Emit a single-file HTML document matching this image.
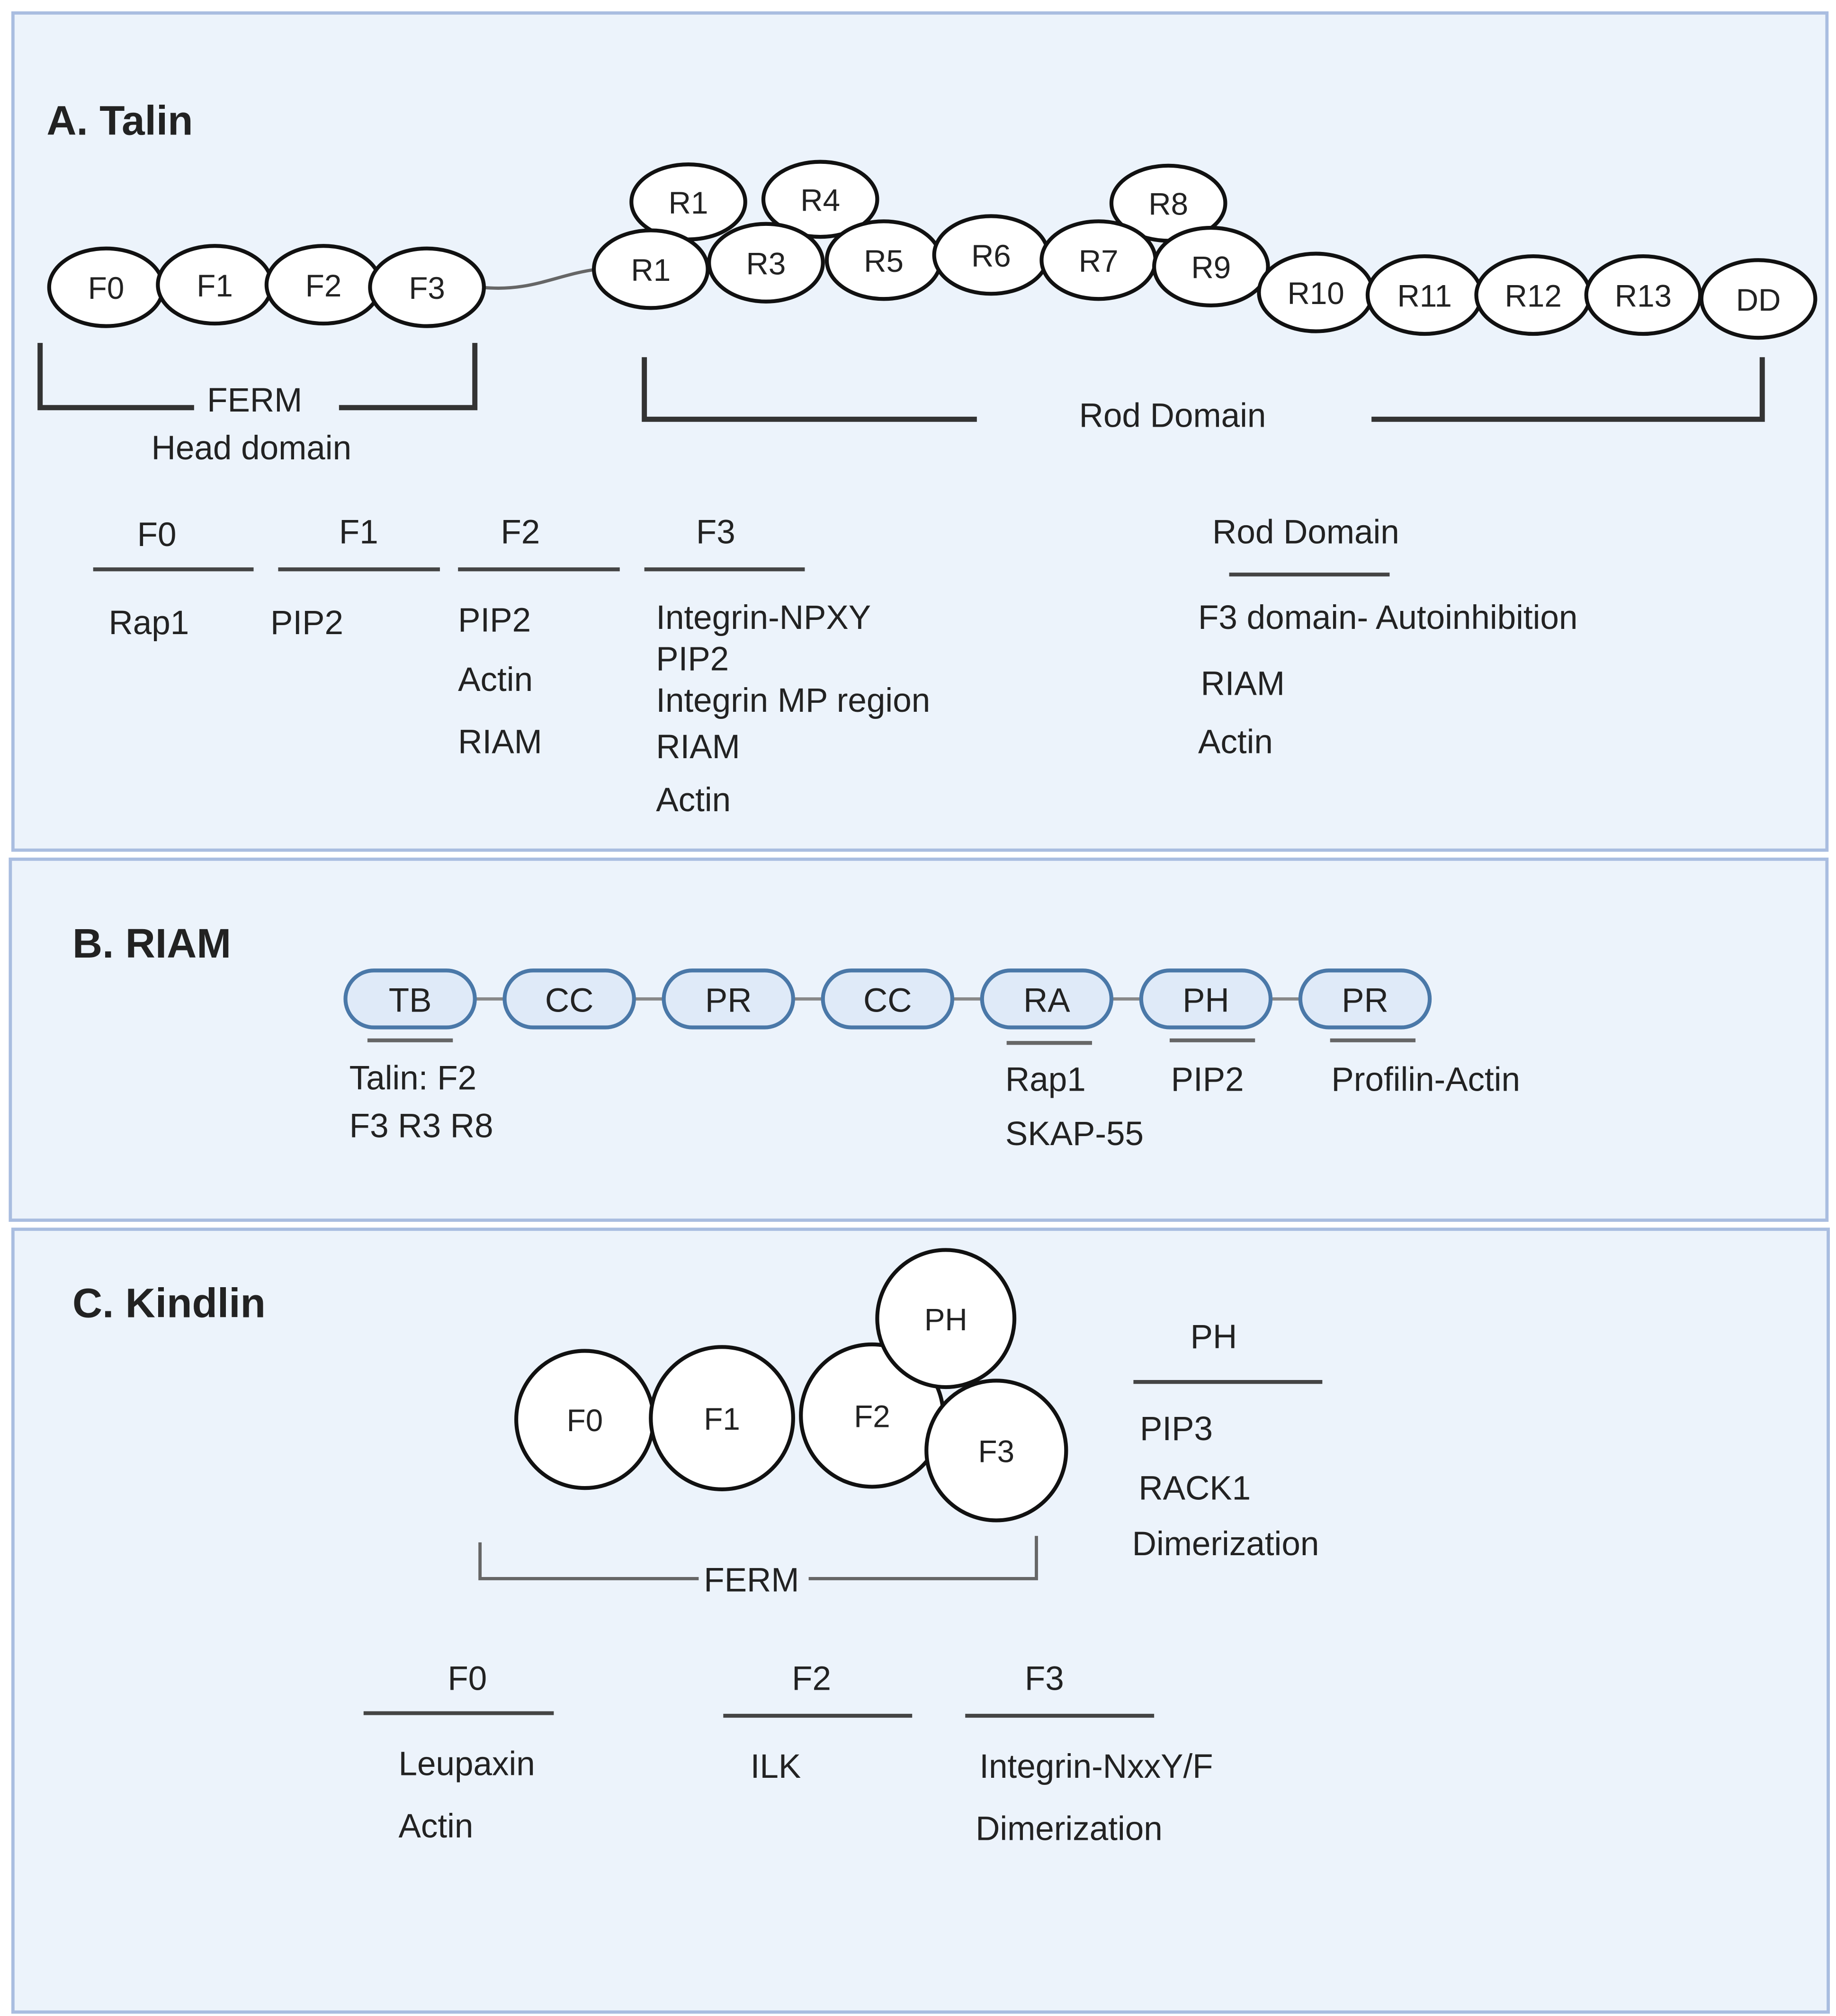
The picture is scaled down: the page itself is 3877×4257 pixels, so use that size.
<!DOCTYPE html>
<html><head><meta charset="utf-8"><style>
html,body{margin:0;padding:0;background:#fff}
svg{display:block}
text{font-family:"Liberation Sans",sans-serif;fill:#222}
</style></head><body>
<svg width="3877" height="4257" viewBox="0 0 1419 1558" xmlns="http://www.w3.org/2000/svg">
<rect x="0" y="0" width="1419" height="1558" fill="#fff"/>
<g fill="#ecf3fb" stroke="#a9bde0" stroke-width="2.5">
<rect x="10" y="10" width="1402" height="647"/>
<rect x="8" y="664" width="1404" height="279"/>
<rect x="10" y="950" width="1403" height="605"/>
</g>
<!-- A Talin -->
<text x="36" y="104" font-size="32" font-weight="bold" fill="#111">A. Talin</text>
<path d="M372 222 C410 226 430 212 462 208" stroke="#666" stroke-width="2.5" fill="none"/>
<g fill="#fff" stroke="#111" stroke-width="3">
<ellipse cx="82" cy="222" rx="44" ry="30"/><ellipse cx="166" cy="220" rx="44" ry="30"/>
<ellipse cx="250" cy="220" rx="44" ry="30"/><ellipse cx="330" cy="222" rx="44" ry="30"/>
<ellipse cx="532" cy="156" rx="44" ry="29"/><ellipse cx="634" cy="154" rx="44" ry="29"/>
<ellipse cx="903" cy="157" rx="44" ry="29"/>
<ellipse cx="503" cy="208" rx="44" ry="30"/><ellipse cx="592" cy="203" rx="44" ry="30"/>
<ellipse cx="683" cy="201" rx="44" ry="30"/><ellipse cx="766" cy="197" rx="44" ry="30"/>
<ellipse cx="849" cy="201" rx="44" ry="30"/><ellipse cx="936" cy="206" rx="44" ry="30"/>
<ellipse cx="1017" cy="226" rx="44" ry="30"/><ellipse cx="1101" cy="228" rx="44" ry="30"/>
<ellipse cx="1185" cy="228" rx="44" ry="30"/><ellipse cx="1270" cy="228" rx="44" ry="30"/>
<ellipse cx="1359" cy="231" rx="44" ry="30"/>
</g>
<g font-size="24" text-anchor="middle">
<text x="82" y="231">F0</text><text x="166" y="229">F1</text><text x="250" y="229">F2</text><text x="330" y="231">F3</text>
<text x="532" y="165">R1</text><text x="634" y="163">R4</text><text x="903" y="166">R8</text>
<text x="503" y="217">R1</text><text x="592" y="212">R3</text><text x="683" y="210">R5</text>
<text x="766" y="206">R6</text><text x="849" y="210">R7</text><text x="936" y="215">R9</text>
<text x="1017" y="235">R10</text><text x="1101" y="237">R11</text><text x="1185" y="237">R12</text>
<text x="1270" y="237">R13</text><text x="1359" y="240">DD</text>
</g>
<g stroke="#333" stroke-width="4" fill="none">
<path d="M31 265 V315 H150"/><path d="M262 315 H367 V265"/>
<path d="M498 276 V324 H755"/><path d="M1060 324 H1362 V276"/>
</g>
<g font-size="26">
<text x="160" y="318">FERM</text><text x="117" y="355">Head domain</text>
<text x="834" y="330">Rod Domain</text>
<text x="106" y="422">F0</text><text x="262" y="420">F1</text><text x="387" y="420">F2</text><text x="538" y="420">F3</text>
<text x="937" y="420">Rod Domain</text>
<text x="84" y="490">Rap1</text><text x="209" y="490">PIP2</text>
<text x="354" y="488">PIP2</text><text x="354" y="534">Actin</text><text x="354" y="582">RIAM</text>
<text x="507" y="486">Integrin-NPXY</text><text x="507" y="518">PIP2</text><text x="507" y="550">Integrin MP region</text>
<text x="507" y="586">RIAM</text><text x="507" y="627">Actin</text>
<text x="926" y="486">F3 domain- Autoinhibition</text><text x="928" y="537">RIAM</text><text x="926" y="582">Actin</text>
</g>
<g stroke="#444" stroke-width="3">
<line x1="72" y1="440" x2="196" y2="440"/><line x1="215" y1="440" x2="340" y2="440"/>
<line x1="354" y1="440" x2="479" y2="440"/><line x1="498" y1="440" x2="622" y2="440"/>
<line x1="950" y1="444" x2="1074" y2="444"/>
</g>
<!-- B RIAM -->
<text x="56" y="740" font-size="32" font-weight="bold" fill="#111">B. RIAM</text>
<line x1="300" y1="772" x2="1080" y2="772" stroke="#888" stroke-width="2.5"/>
<g fill="#dfeaf8" stroke="#4a78a8" stroke-width="3">
<rect x="267" y="750" width="100" height="44" rx="22"/><rect x="390" y="750" width="100" height="44" rx="22"/>
<rect x="513" y="750" width="100" height="44" rx="22"/><rect x="636" y="750" width="100" height="44" rx="22"/>
<rect x="759" y="750" width="100" height="44" rx="22"/><rect x="882" y="750" width="100" height="44" rx="22"/>
<rect x="1005" y="750" width="100" height="44" rx="22"/>
</g>
<g font-size="26" text-anchor="middle">
<text x="317" y="782">TB</text><text x="440" y="782">CC</text><text x="563" y="782">PR</text><text x="686" y="782">CC</text>
<text x="809" y="782">RA</text><text x="932" y="782">PH</text><text x="1055" y="782">PR</text>
</g>
<g stroke="#666" stroke-width="3">
<line x1="284" y1="804" x2="350" y2="804"/><line x1="778" y1="806" x2="844" y2="806"/>
<line x1="904" y1="804" x2="970" y2="804"/><line x1="1028" y1="804" x2="1094" y2="804"/>
</g>
<g font-size="26">
<text x="270" y="842">Talin: F2</text><text x="270" y="879">F3 R3 R8</text>
<text x="777" y="843">Rap1</text><text x="777" y="885">SKAP-55</text>
<text x="905" y="843">PIP2</text><text x="1029" y="843">Profilin-Actin</text>
</g>
<!-- C Kindlin -->
<text x="56" y="1018" font-size="32" font-weight="bold" fill="#111">C. Kindlin</text>
<g fill="#fff" stroke="#111" stroke-width="3">
<circle cx="452" cy="1097" r="53"/><circle cx="558" cy="1096" r="55"/>
<circle cx="674" cy="1094" r="55"/><circle cx="731" cy="1019" r="53"/>
<circle cx="770" cy="1121" r="54"/>
</g>
<g font-size="24" text-anchor="middle">
<text x="452" y="1106">F0</text><text x="558" y="1105">F1</text><text x="674" y="1103">F2</text>
<text x="731" y="1028">PH</text><text x="770" y="1130">F3</text>
</g>
<g stroke="#666" stroke-width="2.5" fill="none">
<path d="M371 1192 V1220 H540"/><path d="M625 1220 H801 V1187"/>
</g>
<g font-size="26">
<text x="544" y="1230">FERM</text>
<text x="920" y="1042">PH</text>
<text x="881" y="1113">PIP3</text><text x="880" y="1159">RACK1</text><text x="875" y="1202">Dimerization</text>
<text x="346" y="1306">F0</text><text x="612" y="1306">F2</text><text x="792" y="1306">F3</text>
<text x="308" y="1372">Leupaxin</text><text x="308" y="1420">Actin</text>
<text x="580" y="1374">ILK</text>
<text x="757" y="1374">Integrin-NxxY/F</text><text x="754" y="1422">Dimerization</text>
</g>
<g stroke="#444" stroke-width="3">
<line x1="876" y1="1068" x2="1022" y2="1068"/>
<line x1="281" y1="1324" x2="428" y2="1324"/><line x1="559" y1="1326" x2="705" y2="1326"/>
<line x1="746" y1="1326" x2="892" y2="1326"/>
</g>
</svg>
</body></html>
